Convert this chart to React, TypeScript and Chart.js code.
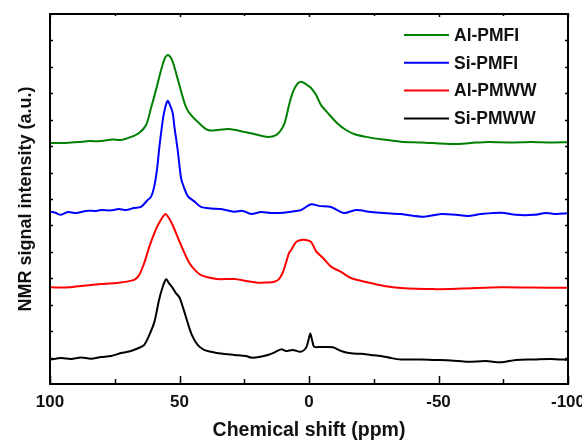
import React, { useEffect, useRef } from "react";
import { Chart, registerables } from "chart.js";

Chart.register(...registerables);

// Chemical shift (ppm) and intensity (a.u., offset stacked) for each spectrum
const seriesNames = ["Al-PMFI", "Si-PMFI", "Al-PMWW", "Si-PMWW"];
const seriesColors = ["#008000", "#0000FF", "#FF0000", "#000000"];

const shiftAlPMFI = [99.6, 93.8, 88.0, 84.9, 80.3, 75.7, 72.6, 68.7, 65.6, 62.9, 61.0, 59.1, 57.1, 55.6, 54.4, 52.9, 51.0, 49.0, 47.5, 45.6, 42.9, 39.0, 35.1, 31.3, 28.2, 25.1, 20.5, 15.8, 12.7, 10.8, 9.3, 7.7, 6.2, 4.6, 3.1, 1.2, -0.8, -2.7, -4.6, -7.3, -11.2, -14.3, -17.4, -22.0, -27.8, -35.5, -43.2, -56.0, -62.5, -69.1, -78.0, -85.7, -93.4, -100];
const valAlPMFI = [9.12, 9.12, 9.16, 9.19, 9.19, 9.25, 9.23, 9.35, 9.50, 9.80, 10.44, 11.12, 11.88, 12.34, 12.45, 12.26, 11.65, 10.94, 10.48, 10.18, 9.91, 9.61, 9.61, 9.65, 9.61, 9.54, 9.44, 9.35, 9.42, 9.61, 9.91, 10.56, 11.05, 11.35, 11.44, 11.35, 11.20, 10.94, 10.56, 10.25, 9.84, 9.61, 9.46, 9.35, 9.26, 9.17, 9.14, 9.08, 9.12, 9.16, 9.14, 9.16, 9.14, 9.15];

const shiftSiPMFI = [99.6, 97.7, 95.8, 93.1, 90.0, 86.1, 82.2, 80.3, 76.4, 73.4, 70.7, 67.6, 64.9, 62.3, 61.0, 59.8, 58.7, 57.9, 57.1, 56.0, 54.6, 53.7, 52.6, 52.0, 50.7, 49.4, 48.6, 46.8, 44.4, 41.7, 37.8, 34.0, 29.0, 25.5, 22.4, 18.5, 14.7, 9.7, 5.0, 3.1, -0.8, -3.9, -8.5, -13.5, -18.1, -23.9, -29.0, -35.5, -44.4, -51.0, -56.8, -61.3, -66.4, -74.1, -79.9, -86.9, -91.5, -95.4, -100];
const valSiPMFI = [6.52, 6.47, 6.40, 6.51, 6.47, 6.55, 6.55, 6.58, 6.57, 6.62, 6.58, 6.66, 6.70, 6.96, 7.08, 7.45, 8.10, 8.85, 9.50, 10.25, 10.71, 10.56, 10.25, 9.76, 8.85, 7.79, 7.53, 7.11, 6.92, 6.70, 6.64, 6.62, 6.52, 6.55, 6.43, 6.51, 6.47, 6.48, 6.55, 6.58, 6.80, 6.74, 6.70, 6.47, 6.58, 6.51, 6.47, 6.43, 6.33, 6.43, 6.40, 6.36, 6.43, 6.48, 6.40, 6.40, 6.47, 6.43, 6.46];

const shiftAlPMWW = [99.6, 93.8, 88.0, 80.3, 74.5, 67.5, 65.6, 63.6, 61.8, 59.7, 57.9, 55.5, 54.1, 52.5, 50.7, 48.6, 46.2, 44.0, 41.7, 38.6, 35.3, 28.8, 24.3, 19.8, 16.6, 13.4, 11.6, 10.2, 8.9, 7.7, 6.9, 5.0, 3.1, 1.2, -0.8, -2.7, -5.4, -8.5, -12.4, -16.2, -22.0, -29.0, -35.5, -48.3, -58.7, -74.1, -85.7, -100];
const valAlPMWW = [3.66, 3.65, 3.71, 3.78, 3.82, 3.94, 4.12, 4.58, 5.15, 5.71, 6.09, 6.43, 6.28, 5.98, 5.56, 5.07, 4.58, 4.31, 4.12, 4.03, 3.97, 3.97, 3.90, 3.83, 3.84, 3.87, 3.97, 4.20, 4.58, 4.96, 5.07, 5.37, 5.45, 5.45, 5.38, 5.03, 4.77, 4.44, 4.24, 4.01, 3.86, 3.71, 3.63, 3.59, 3.61, 3.66, 3.65, 3.64];

const shiftSiPMWW = [99.6, 95.8, 91.9, 88.0, 84.2, 80.3, 76.4, 72.6, 68.7, 64.9, 63.6, 61.8, 59.7, 57.9, 56.5, 55.2, 54.1, 52.6, 51.4, 50.1, 48.6, 46.8, 45.2, 43.0, 40.5, 37.8, 34.0, 28.8, 24.3, 22.4, 19.3, 15.9, 13.9, 10.8, 8.9, 6.3, 3.1, 1.2, 0.2, -0.5, -1.2, -2.0, -4.6, -9.2, -12.4, -16.2, -20.1, -23.9, -27.8, -31.7, -35.5, -43.2, -48.3, -54.8, -61.3, -68.3, -74.1, -79.9, -86.9, -93.4, -100];
const valSiPMWW = [0.93, 0.98, 0.95, 1.00, 0.96, 1.02, 1.06, 1.17, 1.25, 1.40, 1.48, 1.82, 2.35, 3.18, 3.67, 3.96, 3.82, 3.63, 3.44, 3.29, 2.88, 2.31, 1.85, 1.48, 1.29, 1.22, 1.15, 1.10, 1.06, 1.00, 1.02, 1.10, 1.17, 1.31, 1.25, 1.29, 1.22, 1.36, 1.66, 1.91, 1.66, 1.41, 1.40, 1.39, 1.25, 1.16, 1.14, 1.10, 1.06, 0.98, 0.93, 0.93, 0.91, 0.89, 0.84, 0.87, 0.82, 0.91, 0.93, 0.95, 0.91];

const xMajorTicks = [100, 50, 0, -50, -100];
const xMinorTicks = [75, 25, -25, -75];
const yTicks = [1, 2, 3, 4, 5, 6, 7, 8, 9, 10, 11, 12, 13];

const xTitle = "Chemical shift (ppm)";
const yTitle = "NMR signal intensity (a.u.)";

const FONT = "'Liberation Sans', Arial, Helvetica, sans-serif";

const zip = (xs: number[], ys: number[]) => xs.map((x, i) => ({ x, y: ys[i] }));

const frameTicksPlugin = {
  id: "frameTicks",
  afterDatasetsDraw(chart: any) {
    const { ctx, chartArea } = chart;
    const { left, right, top, bottom } = chartArea;
    const xs = chart.scales.x;
    const ys = chart.scales.y;
    ctx.save();
    ctx.strokeStyle = "#000";
    ctx.lineWidth = 2;
    ctx.strokeRect(left, top, right - left, bottom - top);
    ctx.lineWidth = 1.5;
    ctx.beginPath();
    for (const v of xMajorTicks) {
      const p = Math.round(xs.getPixelForValue(v)) + 0.5;
      ctx.moveTo(p, bottom);
      ctx.lineTo(p, bottom - 8);
      ctx.moveTo(p, top);
      ctx.lineTo(p, top + 3);
    }
    for (const v of xMinorTicks) {
      const p = Math.round(xs.getPixelForValue(v)) + 0.5;
      ctx.moveTo(p, bottom);
      ctx.lineTo(p, bottom - 5);
      ctx.moveTo(p, top);
      ctx.lineTo(p, top + 2);
    }
    for (const v of yTicks) {
      const p = Math.round(ys.getPixelForValue(v)) + 0.5;
      ctx.moveTo(left, p);
      ctx.lineTo(left + 3, p);
      ctx.moveTo(right, p);
      ctx.lineTo(right - 3, p);
    }
    ctx.stroke();
    ctx.restore();
  },
  afterDraw(chart: any) {
    const { ctx, chartArea } = chart;
    const { right, top } = chartArea;
    ctx.save();
    ctx.font = `bold 17.5px ${FONT}`;
    ctx.textBaseline = "middle";
    ctx.textAlign = "left";
    chart.data.datasets.forEach((ds: any, i: number) => {
      const yy = top + 21 + i * 27.8;
      const x0 = right - 164;
      ctx.strokeStyle = ds.borderColor;
      ctx.lineWidth = 2;
      ctx.beginPath();
      ctx.moveTo(x0, yy);
      ctx.lineTo(x0 + 45, yy);
      ctx.stroke();
      ctx.fillStyle = "#111";
      ctx.fillText(ds.label, x0 + 50, yy + 1);
    });
    ctx.restore();
  },
};

export default function App() {
  const ref = useRef<HTMLCanvasElement | null>(null);
  useEffect(() => {
    if (!ref.current) return;
    const data = [
      zip(shiftAlPMFI, valAlPMFI),
      zip(shiftSiPMFI, valSiPMFI),
      zip(shiftAlPMWW, valAlPMWW),
      zip(shiftSiPMWW, valSiPMWW),
    ];
    const chart = new Chart(ref.current, {
      type: "line",
      data: {
        datasets: data.map((d, i) => ({
          label: seriesNames[i],
          data: d,
          borderColor: seriesColors[i],
          backgroundColor: seriesColors[i],
          borderWidth: 2,
          pointRadius: 0,
          tension: 0.3,
          fill: false,
        })),
      },
      options: {
        responsive: false,
        animation: false,
        layout: { padding: { top: 14, right: 14, left: 0, bottom: 0 } },
        plugins: { legend: { display: false }, tooltip: { enabled: false } },
        scales: {
          x: {
            type: "linear",
            min: -100,
            max: 100,
            reverse: true,
            afterBuildTicks: (s: any) => {
              s.ticks = xMajorTicks.map((v) => ({ value: v }));
            },
            ticks: {
              color: "#111",
              padding: 8,
              maxRotation: 0,
              font: { family: FONT, size: 17, weight: "bold" },
              callback: (v: any) => String(v),
            },
            grid: { display: false, drawTicks: false },
            border: { display: false },
            title: {
              display: true,
              text: xTitle,
              color: "#111",
              font: { family: FONT, size: 19.5, weight: "bold" },
              padding: { top: 0, bottom: 0 },
            },
            afterFit: (s: any) => {
              s.height = 58;
              s.paddingLeft = 0;
              s.paddingRight = 0;
            },
          },
          y: {
            type: "linear",
            min: 0,
            max: 14,
            ticks: { display: false },
            grid: { display: false, drawTicks: false },
            border: { display: false },
            title: {
              display: true,
              text: yTitle,
              color: "#111",
              font: { family: FONT, size: 18, weight: "bold" },
              padding: { top: 15, bottom: 0 },
            },
            afterFit: (s: any) => {
              s.width = 50;
              s.paddingTop = 0;
              s.paddingBottom = 0;
            },
          },
        },
      },
      plugins: [frameTicksPlugin],
    });
    return () => chart.destroy();
  }, []);
  return (
    <div style={{ position: "fixed", left: 0, top: 0, width: 582, height: 442, background: "#fff" }}>
      <canvas ref={ref} width={582} height={442} style={{ width: 582, height: 442 }} />
    </div>
  );
}
